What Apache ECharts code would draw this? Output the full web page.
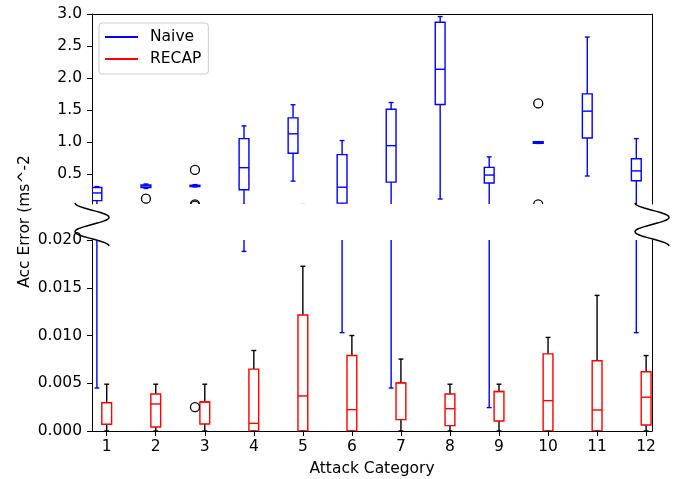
<!DOCTYPE html>
<html>
<head>
<meta charset="utf-8">
<script src="https://cdn.jsdelivr.net/npm/echarts@6/dist/echarts.min.js"></script>
<style>
html,body{margin:0;padding:0;background:#fff}
#chart{width:678px;height:479px}
</style>
</head>
<body>
<div id="chart"></div>
<script>
// ---------------- data ----------------
const categories = [1, 2, 3, 4, 5, 6, 7, 8, 9, 10, 11, 12];

// Naive (blue) five-number summaries
const naiveLow  = [0.0045, 0.27,  0.295, 0.0188, 0.385, 0.0103, 0.0045, 0.105, 0.00245, 0.975, 0.465, 0.0103];
const naiveQ1   = [0.08,   0.285, 0.300, 0.25,   0.82,  0.04,   0.37,   1.585, 0.355,   0.978, 1.06,  0.39];
const naiveMed  = [0.20,   0.31,  0.310, 0.595,  1.125, 0.29,   0.94,   2.135, 0.48,    0.99,  1.48,  0.545];
const naiveQ3   = [0.285,  0.325, 0.320, 1.05,   1.375, 0.80,   1.51,   2.87,  0.60,    1.0,   1.75,  0.735];
const naiveHigh = [0.30,   0.34,  0.330, 1.25,   1.58,  1.02,   1.615,  2.96,  0.765,   1.0,   2.64,  1.05];
const naiveFliers = [[2, 0.11], [3, 0.56], [3, 0.021], [3, 0.0025], [10, 1.6], [10, 0.021]];

// RECAP (red) five-number summaries
const recapLow  = [0, 0,       0,       0,       0,       0,       0,       0,       0,       0,       0,       0];
const recapQ1   = [0.0007,  0.00042, 0.00073, 0,       0,       0,       0.00119, 0.00056, 0.00105, 0,       0,       0.00063];
const recapMed  = [0.00297, 0.00283, 0.00304, 0.0008,  0.00367, 0.00224, 0.00504, 0.00234, 0.00413, 0.00318, 0.0022,  0.00354];
const recapQ3   = [0.00297, 0.00388, 0.00304, 0.00648, 0.01214, 0.0079,  0.00504, 0.00388, 0.00413, 0.00808, 0.00735, 0.0062];
const recapHigh = [0.0049,  0.0049,  0.0049,  0.00843, 0.01725, 0.0100,  0.00753, 0.0049,  0.0049,  0.0098,  0.0142,  0.0079];
const recapFliers = [];

// tick labels
const topTicks = [0.5, 1.0, 1.5, 2.0, 2.5, 3.0];
const bottomTicks = [0, 0.005, 0.010, 0.015, 0.020];

// ---------------- layout / style ----------------
const FONT = 'DejaVu Sans';
const FS = 15.5;
const GL = 92, GR = 26;           // grid left / right
const TOP_T = 14, TOP_H = 190;    // upper panel
const BOT_T = 240, BOT_H = 191;   // lower panel
const NAIVE_OFF = -0.2, RECAP_OFF = 0, BOX_W = 0.2;
const BLUE = '#0000ff', RED = '#ff0000', BLACK = '#000000';
const LW = 1.4;

function boxData(off, lo, q1, md, q3, hi) {
  return categories.map((c, i) => [c + off, lo[i], q1[i], md[i], q3[i], hi[i]]);
}
function flierData(off, list) {
  return list.map(p => [p[0] + off, p[1]]);
}

function boxRenderer(boxColor, whiskerColor) {
  return function (params, api) {
    const x = api.value(0);
    const pLow = api.coord([x, api.value(1)]);
    const pQ1 = api.coord([x, api.value(2)]);
    const pMed = api.coord([x, api.value(3)]);
    const pQ3 = api.coord([x, api.value(4)]);
    const pHigh = api.coord([x, api.value(5)]);
    const hw = api.size([BOX_W, 0])[0] / 2;
    const cx = pMed[0];
    const ln = (x1, y1, x2, y2, color) => ({
      type: 'line', shape: { x1, y1, x2, y2 },
      style: { stroke: color, lineWidth: LW, fill: null }
    });
    return {
      type: 'group',
      children: [
        ln(cx, pQ1[1], cx, pLow[1], whiskerColor),
        ln(cx, pQ3[1], cx, pHigh[1], whiskerColor),
        ln(cx - hw / 2, pLow[1], cx + hw / 2, pLow[1], whiskerColor),
        ln(cx - hw / 2, pHigh[1], cx + hw / 2, pHigh[1], whiskerColor),
        { type: 'rect', shape: { x: cx - hw, y: pQ3[1], width: 2 * hw, height: pQ1[1] - pQ3[1] },
          style: { fill: 'none', stroke: boxColor, lineWidth: LW } },
        ln(cx - hw, pMed[1], cx + hw, pMed[1], boxColor)
      ]
    };
  };
}
function flierRenderer(params, api) {
  const p = api.coord([api.value(0), api.value(1)]);
  return { type: 'circle', shape: { cx: p[0], cy: p[1], r: 4.5 },
    style: { fill: 'none', stroke: BLACK, lineWidth: 1.3 } };
}

function boxSeries(name, xi, yi, data, boxColor, whiskerColor) {
  return { type: 'custom', name, xAxisIndex: xi, yAxisIndex: yi, clip: true,
    itemStyle: { color: boxColor }, renderItem: boxRenderer(boxColor, whiskerColor),
    encode: { x: 0, y: [1, 2, 3, 4, 5] }, data, silent: true };
}
function flierSeries(name, xi, yi, data) {
  return { type: 'custom', name, xAxisIndex: xi, yAxisIndex: yi, clip: true,
    renderItem: flierRenderer, encode: { x: 0, y: 1 }, data, silent: true };
}

const naiveBoxes = boxData(NAIVE_OFF, naiveLow, naiveQ1, naiveMed, naiveQ3, naiveHigh);
const recapBoxes = boxData(RECAP_OFF, recapLow, recapQ1, recapMed, recapQ3, recapHigh);
const naiveOut = flierData(NAIVE_OFF, naiveFliers);
const recapOut = flierData(RECAP_OFF, recapFliers);

const axisLineStyle = { show: true, onZero: false, lineStyle: { color: BLACK, width: 1 } };
const labelStyle = { fontFamily: FONT, fontSize: FS, color: BLACK };

// break marks (squiggles) computed from the panel layout
function squiggle(cx) {
  const pts = [];
  const y0 = TOP_T + TOP_H - 1, y1 = BOT_T + 6;
  for (let k = 0; k <= 60; k++) {
    const t = k / 60;
    pts.push([cx + 17 * Math.sin(-Math.PI / 2 + 3 * Math.PI * t), y0 + (y1 - y0) * t]);
  }
  return { type: 'polyline', shape: { points: pts }, z: 100,
    style: { stroke: BLACK, lineWidth: 1.5, fill: null } };
}

const option = {
  animation: false,
  backgroundColor: '#ffffff',
  textStyle: { fontFamily: FONT },
  grid: [
    { left: GL, right: GR, top: TOP_T, height: TOP_H },
    { left: GL, right: GR, top: BOT_T, height: BOT_H }
  ],
  legend: {
    orient: 'vertical', left: 99, top: 23,
    padding: [6, 7, 7, 6], itemGap: 6, itemWidth: 33, itemHeight: 2,
    backgroundColor: 'rgba(255,255,255,0.8)', borderColor: '#cccccc', borderWidth: 1, borderRadius: 3,
    textStyle: { fontFamily: FONT, fontSize: FS, color: BLACK, padding: [0, 0, 0, 7] },
    data: [
      { name: 'Naive', icon: 'rect', itemStyle: { color: BLUE } },
      { name: 'RECAP', icon: 'rect', itemStyle: { color: RED } }
    ]
  },
  xAxis: [
    { type: 'value', gridIndex: 0, min: 0.7, max: 12.12, position: 'top',
      axisLine: axisLineStyle, axisTick: { show: false }, axisLabel: { show: false }, splitLine: { show: false } },
    { type: 'value', gridIndex: 1, min: 0.7, max: 12.12, position: 'bottom',
      axisLine: axisLineStyle,
      axisTick: { show: true, length: 5, lineStyle: { color: BLACK }, customValues: categories },
      axisLabel: Object.assign({ margin: 8, customValues: categories, formatter: v => String(v) }, labelStyle),
      splitLine: { show: false },
      name: 'Attack Category', nameLocation: 'middle', nameGap: 30,
      nameTextStyle: labelStyle }
  ],
  yAxis: [
    { type: 'value', gridIndex: 0, min: 0.027, max: 3.0, position: 'left',
      axisLine: axisLineStyle,
      axisTick: { show: true, length: 5, lineStyle: { color: BLACK }, customValues: topTicks },
      axisLabel: Object.assign({ margin: 10, customValues: topTicks, formatter: v => Number(v).toFixed(1) }, labelStyle),
      splitLine: { show: false } },
    { type: 'value', gridIndex: 0, min: 0.027, max: 3.0, position: 'right',
      axisLine: axisLineStyle, axisTick: { show: false }, axisLabel: { show: false }, splitLine: { show: false } },
    { type: 'value', gridIndex: 1, min: 0, max: 0.02, interval: 0.005, position: 'left',
      axisLine: axisLineStyle,
      axisTick: { show: true, length: 5, lineStyle: { color: BLACK }, customValues: bottomTicks },
      axisLabel: Object.assign({ margin: 10, customValues: bottomTicks, formatter: v => Number(v).toFixed(3) }, labelStyle),
      splitLine: { show: false } },
    { type: 'value', gridIndex: 1, min: 0, max: 0.02, position: 'right',
      axisLine: axisLineStyle, axisTick: { show: false }, axisLabel: { show: false }, splitLine: { show: false } }
  ],
  graphic: [
    { type: 'text', x: 25, y: 221.5, rotation: Math.PI / 2, z: 100,
      style: { text: 'Acc Error (ms^-2', x: 0, y: 0, align: 'center', verticalAlign: 'middle',
        fontFamily: FONT, fontSize: FS, fill: BLACK } },
    squiggle(GL),
    squiggle(678 - GR)
  ],
  series: [
    boxSeries('Naive', 0, 0, naiveBoxes, BLUE, BLUE),
    boxSeries('Naive', 1, 2, naiveBoxes, BLUE, BLUE),
    boxSeries('RECAP', 0, 0, recapBoxes, RED, BLACK),
    boxSeries('RECAP', 1, 2, recapBoxes, RED, BLACK),
    flierSeries('Naive fliers', 0, 0, naiveOut),
    flierSeries('Naive fliers', 1, 2, naiveOut),
    flierSeries('RECAP fliers', 0, 0, recapOut),
    flierSeries('RECAP fliers', 1, 2, recapOut)
  ]
};

const chart = echarts.init(document.getElementById('chart'), null, { renderer: 'canvas' });
chart.setOption(option);
</script>
</body>
</html>
